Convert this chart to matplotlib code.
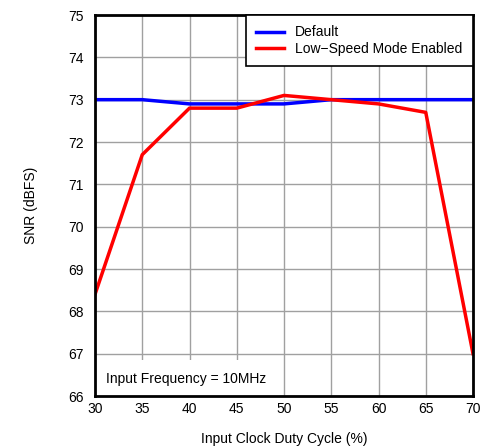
import matplotlib
matplotlib.use('Agg')
import matplotlib.pyplot as plt

# duty cycle (%)
duty = [30, 35, 40, 45, 50, 55, 60, 65, 70]
snr_default = [73.0, 73.0, 72.9, 72.9, 72.9, 73.0, 73.0, 73.0, 73.0]
snr_low_speed = [68.4, 71.7, 72.8, 72.8, 73.1, 73.0, 72.9, 72.7, 67.0]

plt.rcParams['font.family'] = ['Liberation Sans', 'DejaVu Sans']

fig = plt.figure(figsize=(4.84, 4.46), dpi=100)
ax = fig.add_axes([95 / 484, 50 / 446, 378 / 484, 381 / 446])

ax.plot(duty, snr_default, color='blue', lw=2.5, label='Default')
ax.plot(duty, snr_low_speed, color='red', lw=2.5, label='Low\u2212Speed Mode Enabled')

ax.set_xlim(30, 70)
ax.set_ylim(66, 75)
ax.set_xticks(range(30, 71, 5))
ax.set_yticks(range(66, 76))
ax.grid(True, color='#a0a0a0', lw=1)
ax.set_axisbelow(True)
ax.tick_params(length=0, labelsize=10, pad=4)
ax.tick_params(axis='y', pad=8)
for s in ax.spines.values():
    s.set_linewidth(2)

ax.set_xlabel('Input Clock Duty Cycle (%)', fontsize=10, labelpad=12)
ax.set_ylabel('SNR (dBFS)', fontsize=10, labelpad=22)

# white box hides grid behind the note, stays under the spines
ax.text(31.2, 66.3, 'Input Frequency = 10MHz', fontsize=10, zorder=1,
        bbox=dict(facecolor='white', edgecolor='none', pad=9))

leg = ax.legend(loc='upper right', fontsize=10, fancybox=False, framealpha=1,
                edgecolor='black', borderaxespad=0, handlelength=2.0,
                handletextpad=0.8, borderpad=0.75, labelspacing=0.15)
leg.get_frame().set_linewidth(1.2)

plt.savefig('out.png')
